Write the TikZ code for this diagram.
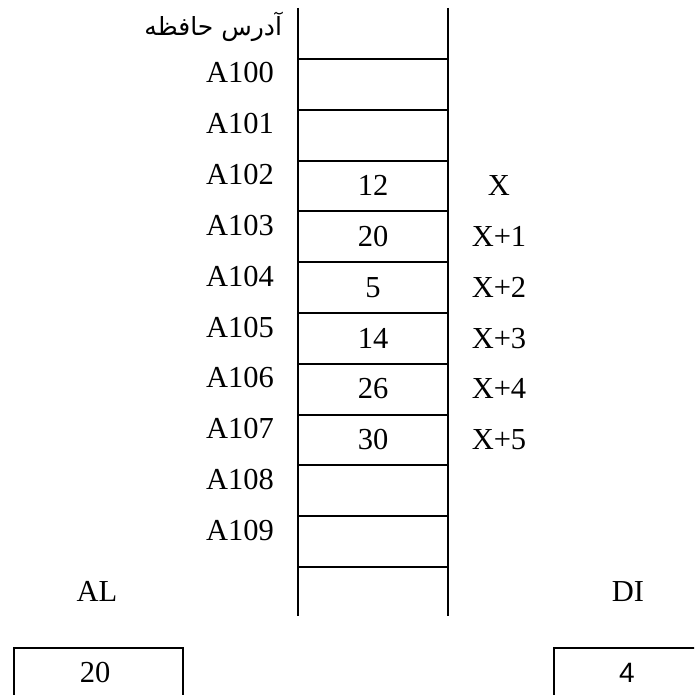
\documentclass[tikz,border=0pt]{standalone}
\usepackage{fontspec}
\setmainfont{Liberation Serif}
\newfontfamily\arabicfont[Script=Arabic]{DejaVu Sans}
\newfontfamily\digitsans{Liberation Sans}
\TeXXeTstate=1
\begin{document}
\begin{tikzpicture}[x=1pt,y=-1pt,line width=2pt,
  lbl/.style={inner sep=0pt,font=\fontsize{30.5}{36}\selectfont},
  regbox/.style={draw,line width=2pt,inner sep=0pt,anchor=north west}]
\useasboundingbox (0,0) rectangle (694,695);
\begin{scope}
\clip (0,0) rectangle (694,695);
% memory column
\coordinate (ctl) at (298,8);
\coordinate (cbl) at (298,616);
\coordinate (ctr) at (448,8);
\coordinate (cbr) at (448,616);
\draw (ctl) -- (cbl);
\draw (ctr) -- (cbr);
\foreach \k in {0,...,10}{
  \coordinate (hl\k) at (298,59+50.8*\k);
  \coordinate (hr\k) at (448,59+50.8*\k);
  \draw (hl\k) -- (hr\k);
}
% address header
\node[inner sep=0pt,anchor=base east,font=\arabicfont\fontsize{25}{30}\selectfont] (hdr) at (283,36) {\beginR آدرس حافظه\endR};
% addresses
\foreach \k/\a in {0/A100,1/A101,2/A102,3/A103,4/A104,5/A105,6/A106,7/A107,8/A108,9/A109}{
  \node[lbl,anchor=base east] (addr\k) at (275,83+50.8*\k) {\a};
}
% values
\foreach \k/\v/\x in {2/12/X,3/20/X+1,4/5/X+2,5/14/X+3,6/26/X+4,7/30/X+5}{
  \node[lbl,anchor=base] (val\k) at (373,94+50.8*\k) {\v};
  \node[lbl,anchor=base] (off\k) at (499,94+50.8*\k) {\x};
}
% registers
\node[lbl,anchor=base] (al) at (97,601) {AL};
\node[lbl,anchor=base] (di) at (628,601) {DI};
\node[regbox,minimum width=169pt,minimum height=80pt] (alreg) at (13,647) {};
\node[regbox,minimum width=170pt,minimum height=80pt] (direg) at (553,647) {};
\node[lbl,anchor=base] (alval) at (95,682) {20};
\node[inner sep=0pt,anchor=base,font=\digitsans\fontsize{28}{34}\selectfont] (dival) at (627,682) {4};
\end{scope}
\end{tikzpicture}
\end{document}
